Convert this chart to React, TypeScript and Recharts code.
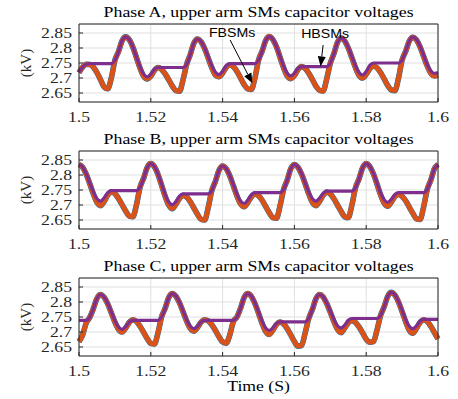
import React from "react";
import { LineChart, Line, XAxis, YAxis, CartesianGrid, ReferenceLine } from "recharts";

// sample times (s), 1 ms grid
const time = [
  1.5, 1.501, 1.502, 1.503, 1.504, 1.505, 1.506, 1.507, 1.508, 1.509,
  1.51, 1.511, 1.512, 1.513, 1.514, 1.515, 1.516, 1.517, 1.518, 1.519,
  1.52, 1.521, 1.522, 1.523, 1.524, 1.525, 1.526, 1.527, 1.528, 1.529,
  1.53, 1.531, 1.532, 1.533, 1.534, 1.535, 1.536, 1.537, 1.538, 1.539,
  1.54, 1.541, 1.542, 1.543, 1.544, 1.545, 1.546, 1.547, 1.548, 1.549,
  1.55, 1.551, 1.552, 1.553, 1.554, 1.555, 1.556, 1.557, 1.558, 1.559,
  1.56, 1.561, 1.562, 1.563, 1.564, 1.565, 1.566, 1.567, 1.568, 1.569,
  1.57, 1.571, 1.572, 1.573, 1.574, 1.575, 1.576, 1.577, 1.578, 1.579,
  1.58, 1.581, 1.582, 1.583, 1.584, 1.585, 1.586, 1.587, 1.588, 1.589,
  1.59, 1.591, 1.592, 1.593, 1.594, 1.595, 1.596, 1.597, 1.598, 1.599,
  1.6,
];

// Phase A (kV)
const phaseAFull = [
  2.718, 2.736, 2.746, 2.745, 2.736, 2.718, 2.694, 2.67, 2.664, 2.7,
  2.759, 2.788, 2.824, 2.837, 2.828, 2.803, 2.768, 2.733, 2.706, 2.697,
  2.706, 2.725, 2.735, 2.729, 2.714, 2.694, 2.673, 2.658, 2.656, 2.695,
  2.746, 2.778, 2.816, 2.83, 2.821, 2.798, 2.766, 2.734, 2.71, 2.704,
  2.716, 2.735, 2.744, 2.738, 2.722, 2.7, 2.678, 2.664, 2.662, 2.7,
  2.759, 2.789, 2.825, 2.838, 2.828, 2.804, 2.769, 2.734, 2.707, 2.698,
  2.708, 2.728, 2.738, 2.732, 2.716, 2.695, 2.673, 2.659, 2.657, 2.697,
  2.749, 2.781, 2.819, 2.833, 2.824, 2.8, 2.768, 2.735, 2.709, 2.7,
  2.712, 2.731, 2.74, 2.734, 2.718, 2.697, 2.675, 2.66, 2.658, 2.7,
  2.76, 2.789, 2.823, 2.836, 2.827, 2.804, 2.772, 2.74, 2.716, 2.707,
  2.709,
];
const phaseAHalf = [
  2.72, 2.736, 2.746, 2.748, 2.748, 2.748, 2.748, 2.748, 2.748, 2.748,
  2.759, 2.788, 2.824, 2.837, 2.828, 2.804, 2.77, 2.737, 2.713, 2.704,
  2.713, 2.729, 2.735, 2.735, 2.735, 2.735, 2.735, 2.735, 2.735, 2.735,
  2.746, 2.778, 2.816, 2.83, 2.822, 2.8, 2.77, 2.741, 2.719, 2.711,
  2.722, 2.741, 2.748, 2.748, 2.748, 2.748, 2.748, 2.748, 2.748, 2.748,
  2.759, 2.789, 2.825, 2.838, 2.829, 2.805, 2.772, 2.74, 2.716, 2.707,
  2.716, 2.732, 2.738, 2.738, 2.738, 2.738, 2.738, 2.738, 2.738, 2.738,
  2.749, 2.781, 2.819, 2.833, 2.825, 2.802, 2.772, 2.741, 2.718, 2.71,
  2.722, 2.742, 2.75, 2.75, 2.75, 2.75, 2.75, 2.75, 2.75, 2.75,
  2.76, 2.789, 2.823, 2.836, 2.828, 2.806, 2.776, 2.745, 2.723, 2.715,
  2.718,
];

// Phase B (kV)
const phaseBFull = [
  2.835, 2.826, 2.803, 2.771, 2.737, 2.709, 2.698, 2.712, 2.733, 2.744,
  2.738, 2.722, 2.701, 2.68, 2.663, 2.661, 2.7, 2.759, 2.789, 2.825,
  2.838, 2.828, 2.802, 2.766, 2.729, 2.7, 2.688, 2.703, 2.722, 2.732,
  2.726, 2.711, 2.69, 2.669, 2.652, 2.65, 2.692, 2.748, 2.779, 2.816,
  2.83, 2.821, 2.797, 2.764, 2.73, 2.704, 2.694, 2.708, 2.727, 2.737,
  2.731, 2.716, 2.695, 2.674, 2.658, 2.656, 2.697, 2.752, 2.783, 2.821,
  2.835, 2.826, 2.803, 2.771, 2.737, 2.709, 2.698, 2.712, 2.732, 2.743,
  2.737, 2.721, 2.7, 2.679, 2.661, 2.658, 2.699, 2.757, 2.787, 2.824,
  2.838, 2.828, 2.804, 2.77, 2.734, 2.707, 2.696, 2.71, 2.728, 2.735,
  2.729, 2.714, 2.693, 2.672, 2.654, 2.652, 2.694, 2.752, 2.783, 2.821,
  2.835,
];
const phaseBHalf = [
  2.835, 2.827, 2.805, 2.774, 2.743, 2.721, 2.713, 2.724, 2.741, 2.748,
  2.748, 2.748, 2.748, 2.748, 2.748, 2.748, 2.748, 2.759, 2.789, 2.825,
  2.838, 2.829, 2.804, 2.77, 2.735, 2.71, 2.701, 2.712, 2.73, 2.737,
  2.737, 2.737, 2.737, 2.737, 2.737, 2.737, 2.737, 2.748, 2.779, 2.816,
  2.83, 2.822, 2.799, 2.768, 2.736, 2.713, 2.705, 2.716, 2.734, 2.741,
  2.741, 2.741, 2.741, 2.741, 2.741, 2.741, 2.741, 2.752, 2.783, 2.821,
  2.835, 2.827, 2.805, 2.774, 2.743, 2.721, 2.713, 2.723, 2.739, 2.746,
  2.746, 2.746, 2.746, 2.746, 2.746, 2.746, 2.746, 2.757, 2.787, 2.824,
  2.838, 2.829, 2.806, 2.774, 2.741, 2.718, 2.709, 2.719, 2.735, 2.741,
  2.741, 2.741, 2.741, 2.741, 2.741, 2.741, 2.741, 2.752, 2.783, 2.821,
  2.835,
];

// Phase C (kV)
const phaseCFull = [
  2.668, 2.69, 2.73, 2.749, 2.778, 2.812, 2.825, 2.816, 2.794, 2.764,
  2.733, 2.709, 2.7, 2.713, 2.732, 2.741, 2.735, 2.719, 2.699, 2.678,
  2.662, 2.66, 2.697, 2.75, 2.779, 2.815, 2.828, 2.819, 2.797, 2.767,
  2.736, 2.712, 2.703, 2.715, 2.733, 2.741, 2.737, 2.724, 2.705, 2.684,
  2.667, 2.663, 2.69, 2.735, 2.75, 2.779, 2.815, 2.828, 2.819, 2.795,
  2.763, 2.729, 2.702, 2.692, 2.706, 2.725, 2.733, 2.727, 2.711, 2.69,
  2.668, 2.653, 2.655, 2.697, 2.745, 2.775, 2.811, 2.825, 2.817, 2.795,
  2.766, 2.735, 2.709, 2.698, 2.713, 2.731, 2.738, 2.732, 2.717, 2.697,
  2.676, 2.666, 2.668, 2.706, 2.755, 2.784, 2.819, 2.832, 2.823, 2.8,
  2.768, 2.734, 2.706, 2.696, 2.712, 2.732, 2.741, 2.735, 2.719, 2.698,
  2.677,
];
const phaseCHalf = [
  2.739, 2.739, 2.739, 2.749, 2.778, 2.812, 2.825, 2.817, 2.796, 2.767,
  2.738, 2.717, 2.709, 2.718, 2.733, 2.739, 2.739, 2.739, 2.739, 2.739,
  2.739, 2.739, 2.739, 2.75, 2.779, 2.815, 2.828, 2.82, 2.799, 2.77,
  2.74, 2.719, 2.711, 2.719, 2.733, 2.739, 2.739, 2.739, 2.739, 2.739,
  2.739, 2.739, 2.739, 2.739, 2.75, 2.779, 2.815, 2.828, 2.82, 2.797,
  2.767, 2.736, 2.713, 2.705, 2.714, 2.728, 2.734, 2.734, 2.734, 2.734,
  2.734, 2.734, 2.734, 2.734, 2.745, 2.775, 2.811, 2.825, 2.818, 2.797,
  2.77, 2.742, 2.721, 2.714, 2.723, 2.739, 2.745, 2.745, 2.745, 2.745,
  2.745, 2.745, 2.745, 2.745, 2.755, 2.784, 2.819, 2.832, 2.824, 2.802,
  2.772, 2.741, 2.719, 2.711, 2.72, 2.736, 2.742, 2.742, 2.742, 2.742,
  2.742,
];

const xTicks = [1.5, 1.52, 1.54, 1.56, 1.58, 1.6];
const yTicks = [2.65, 2.7, 2.75, 2.8, 2.85];
const xDomain = [1.5, 1.6];
const yDomain = [2.62, 2.88];

const BLUE = "#0072BD";
const ORANGE = "#D95319";
const PURPLE = "#7E2F8E";
const AXIS = "#262626";
const GRID = "#dfdfdf";
const SERIF = "'Liberation Serif', 'Times New Roman', serif";
const SANS = "'Liberation Sans', Arial, sans-serif";
const STRETCH = 1.18; // the figure was exported slightly wider than tall

const XTick = ({ x, y, payload }: any) => (
  <text
    transform={`translate(${x},${y}) scale(${STRETCH},1)`}
    textAnchor="middle"
    dy="0.71em"
    fontSize={15}
    fontFamily={SERIF}
    fill={AXIS}
  >
    {payload.value}
  </text>
);

const YTick = ({ x, y, payload }: any) => (
  <text
    transform={`translate(${x},${y}) scale(${STRETCH},1)`}
    textAnchor="end"
    dy="0.35em"
    fontSize={15}
    fontFamily={SERIF}
    fill={AXIS}
  >
    {payload.value}
  </text>
);

const KvLabel = ({ viewBox }: any) => (
  <text
    transform={`translate(26,${viewBox.y + viewBox.height / 2}) rotate(-90)`}
    textAnchor="middle"
    dy="0.35em"
    fontSize={15}
    fontFamily={SERIF}
    fill={AXIS}
  >
    (kV)
  </text>
);

// arrow with its caption, drawn in data coordinates
const arrowShape = (label: string, dx: number, dy: number) => (props: any) => {
  const { x1, y1, x2, y2 } = props;
  const ang = Math.atan2(y2 - y1, x2 - x1);
  const len = 10;
  const half = 4;
  const bx = x2 - len * Math.cos(ang);
  const by = y2 - len * Math.sin(ang);
  const px = -Math.sin(ang) * half;
  const py = Math.cos(ang) * half;
  return (
    <g>
      <line x1={x1} y1={y1} x2={bx} y2={by} stroke="#000" strokeWidth={1} />
      <polygon points={`${x2},${y2} ${bx + px},${by + py} ${bx - px},${by - py}`} fill="#000" />
      <text
        transform={`translate(${x1 + dx},${y1 + dy}) scale(${STRETCH},1)`}
        textAnchor="middle"
        fontSize={12}
        fontFamily={SANS}
        fill="#000"
      >
        {label}
      </text>
    </g>
  );
};

const notesA = [
  { label: "FBSMs", from: { x: 1.5421, y: 2.8267 }, to: { x: 1.5483, y: 2.6823 }, dx: 2, dy: -2.5 },
  { label: "HBSMs", from: { x: 1.568, y: 2.81 }, to: { x: 1.5673, y: 2.7383 }, dx: 2, dy: -7.5 },
];

type Note = (typeof notesA)[number];

function Panel({
  title,
  top,
  full,
  half,
  notes = [],
}: {
  title: string;
  top: number;
  full: number[];
  half: number[];
  notes?: Note[];
}) {
  const rows = time.map((t, i) => ({ t, full: full[i], half: half[i] }));
  return (
    <div style={{ position: "absolute", left: 0, top, width: 458, height: 127 }}>
      <LineChart width={458} height={127} data={rows} margin={{ top: 23, right: 19, bottom: 0, left: 0 }}>
        <CartesianGrid stroke={GRID} strokeWidth={1} />
        <XAxis
          dataKey="t"
          type="number"
          domain={xDomain}
          ticks={xTicks}
          interval={0}
          height={25}
          tickSize={-4}
          tickMargin={13.5}
          tick={<XTick />}
          axisLine={{ stroke: AXIS }}
          tickLine={{ stroke: AXIS }}
        />
        <XAxis
          xAxisId="top"
          orientation="top"
          type="number"
          domain={xDomain}
          ticks={xTicks}
          interval={0}
          height={1}
          tickSize={-4}
          tick={false}
          axisLine={{ stroke: AXIS }}
          tickLine={{ stroke: AXIS }}
        />
        <YAxis
          type="number"
          domain={yDomain}
          ticks={yTicks}
          interval={0}
          width={79}
          tickSize={-4}
          tickMargin={11}
          tick={<YTick />}
          axisLine={{ stroke: AXIS }}
          tickLine={{ stroke: AXIS }}
          label={<KvLabel />}
        />
        <YAxis
          yAxisId="r"
          orientation="right"
          type="number"
          domain={yDomain}
          ticks={yTicks}
          interval={0}
          width={1}
          tickSize={-4}
          tick={false}
          axisLine={{ stroke: AXIS }}
          tickLine={{ stroke: AXIS }}
        />
        <Line dataKey="full" type="monotone" stroke={BLUE} strokeWidth={5.6} dot={false} isAnimationActive={false} />
        <Line dataKey="full" type="monotone" stroke={ORANGE} strokeWidth={5} dot={false} isAnimationActive={false} />
        <Line dataKey="half" type="monotone" stroke={PURPLE} strokeWidth={3.2} dot={false} isAnimationActive={false} />
        {notes.map((n) => (
          <ReferenceLine
            key={n.label}
            segment={[n.from, n.to]}
            shape={arrowShape(n.label, n.dx, n.dy)}
          />
        ))}
      </LineChart>
      <svg width={458} height={23} style={{ position: "absolute", left: 0, top: 0 }}>
        <text
          x={258.6}
          y={17}
          textAnchor="middle"
          fontSize={15}
          fontFamily={SERIF}
          textLength={310}
          lengthAdjust="spacingAndGlyphs"
          fill="#000"
        >
          {title}
        </text>
      </svg>
    </div>
  );
}

export default function App() {
  return (
    <div style={{ position: "absolute", left: 0, top: 0, width: 458, height: 399, background: "#fff" }}>
      <Panel title="Phase A, upper arm SMs capacitor voltages" top={0} full={phaseAFull} half={phaseAHalf} notes={notesA} />
      <Panel title="Phase B, upper arm SMs capacitor voltages" top={127} full={phaseBFull} half={phaseBHalf} />
      <Panel title="Phase C, upper arm SMs capacitor voltages" top={254} full={phaseCFull} half={phaseCHalf} />
      <svg width={458} height={21} style={{ position: "absolute", left: 0, top: 378 }}>
        <text
          transform={`translate(258.6,13) scale(${STRETCH},1)`}
          textAnchor="middle"
          fontSize={15}
          fontFamily={SERIF}
          fill="#000"
        >
          Time (S)
        </text>
      </svg>
    </div>
  );
}
